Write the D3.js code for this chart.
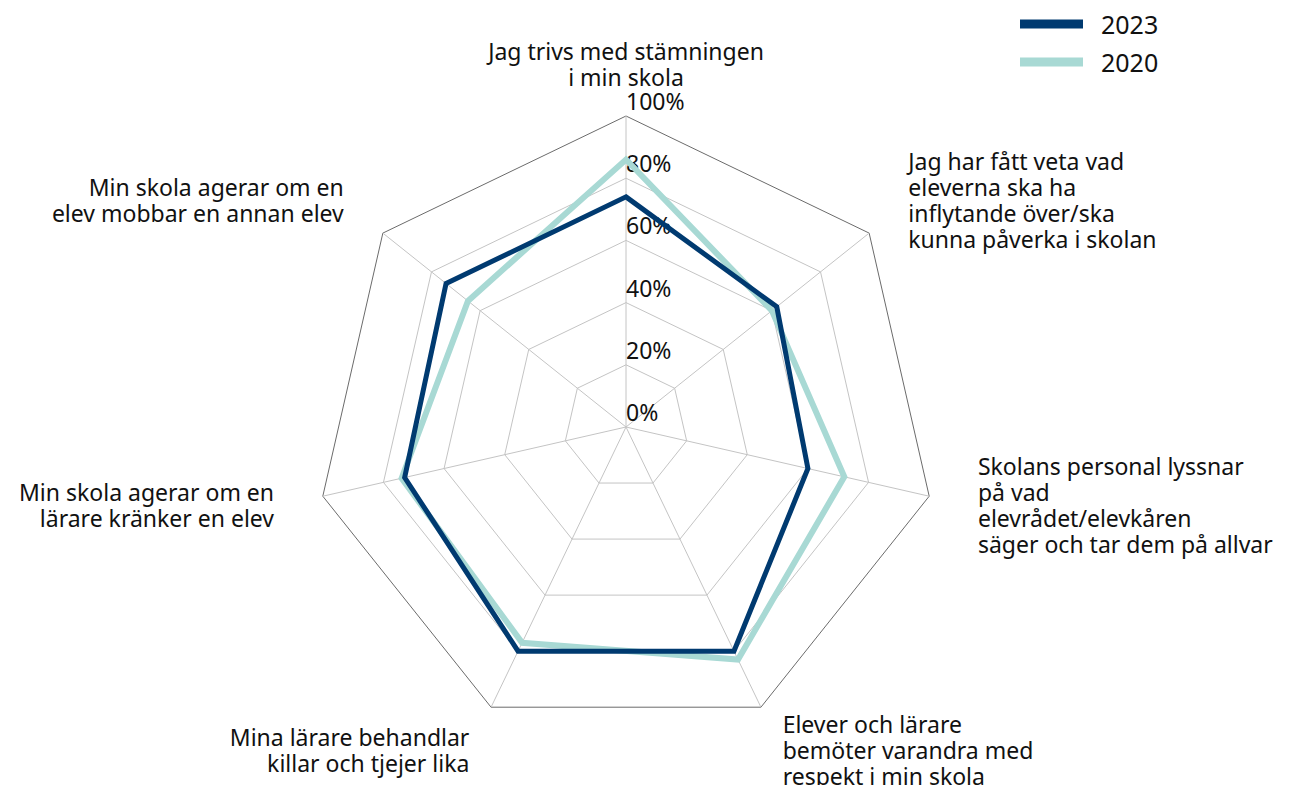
<!DOCTYPE html>
<html>
<head>
    <meta charset="utf-8">
    <title>Radar</title>
    <script src="https://d3js.org/d3.v7.min.js"></script>
    <style>
        body { margin: 0; background: #fff; }
        text { font-family: "Noto Sans", sans-serif; fill: #111; }
        .grid { fill: none; stroke: #c4c4c4; stroke-width: 1; }
        .grid.outer { stroke: #6b6b6b; }
        .spoke { stroke: #c4c4c4; stroke-width: 1; }
        .series { fill: none; stroke-linejoin: miter; }
    </style>
</head>
<body>
    <svg id="chart"></svg>

    <script>
        // axis labels, one entry per line
        var categories = [
            ["Jag trivs med stämningen", "i min skola"],
            ["Jag har fått veta vad", "eleverna ska ha", "inflytande över/ska", "kunna påverka i skolan"],
            ["Skolans personal lyssnar", "på vad", "elevrådet/elevkåren", "säger och tar dem på allvar"],
            ["Elever och lärare", "bemöter varandra med", "respekt i min skola"],
            ["Mina lärare behandlar", "killar och tjejer lika"],
            ["Min skola agerar om en", "lärare kränker en elev"],
            ["Min skola agerar om en", "elev mobbar en annan elev"]
        ];
        var values2023 = [74, 62, 60, 80, 80, 73, 74];
        var values2020 = [86, 60, 72, 83, 77, 74, 65];
        var ticks = [0, 20, 40, 60, 80, 100];
        var seriesNames = ["2023", "2020"];
        var seriesColors = ["#003a70", "#a8d9d4"];

        var width = 1312, height = 785;
        var cx = 626, cy = 427, R = 311;
        var lineH = 26;

        var svg = d3.select("#chart")
            .attr("width", width)
            .attr("height", height);

        var r = d3.scaleLinear().domain([0, 100]).range([0, R]);
        var n = categories.length;
        var angle = function(i) { return i * 2 * Math.PI / n; };

        var g = svg.append("g").attr("transform", "translate(" + cx + "," + cy + ")");

        // rings (skip 0)
        var ring = d3.lineRadial()
            .angle(function(d, i) { return angle(i); })
            .radius(function(d) { return r(d); })
            .curve(d3.curveLinearClosed);

        ticks.filter(function(t) { return t > 0; }).forEach(function(t) {
            g.append("path")
                .attr("class", t === 100 ? "grid outer" : "grid")
                .attr("d", ring(d3.range(n).map(function() { return t; })));
        });

        g.selectAll(".spoke")
            .data(d3.range(n))
            .enter().append("line")
            .attr("class", "spoke")
            .attr("x1", 0).attr("y1", 0)
            .attr("x2", function(i) { return r(100) * Math.sin(angle(i)); })
            .attr("y2", function(i) { return -r(100) * Math.cos(angle(i)); });

        // tick labels
        g.selectAll(".tick-label")
            .data(ticks)
            .enter().append("text")
            .attr("class", "tick-label")
            .attr("x", 0)
            .attr("y", function(d) { return -r(d) - 6; })
            .style("font-size", "23px")
            .text(function(d) { return d + "%"; });

        // series, 2020 under 2023
        [values2020, values2023].forEach(function(vals, k) {
            var idx = k === 0 ? 1 : 0;
            g.append("path")
                .attr("class", "series")
                .attr("stroke", seriesColors[idx])
                .attr("stroke-width", idx === 0 ? 5 : 6)
                .attr("d", ring(vals));
        });

        // category labels
        var labelR = r(100) + 50;
        categories.forEach(function(lines, i) {
            var a = angle(i);
            var x = labelR * Math.sin(a), y = -labelR * Math.cos(a);
            var anchor = Math.abs(Math.sin(a)) < 0.1 ? "middle" : (Math.sin(a) > 0 ? "start" : "end");
            var y0 = y - (lines.length - 1) * lineH / 2 + 7;
            var t = g.append("text")
                .attr("text-anchor", anchor)
                .style("font-size", "23px");
            t.selectAll("tspan")
                .data(lines)
                .enter().append("tspan")
                .attr("x", x)
                .attr("y", function(d, j) { return y0 + j * lineH; })
                .text(function(d) { return d; });
        });

        // legend
        var legend = svg.append("g").attr("transform", "translate(1020,24)");
        seriesNames.forEach(function(name, i) {
            legend.append("line")
                .attr("x1", 0).attr("x2", 63)
                .attr("y1", i * 38).attr("y2", i * 38)
                .attr("stroke", seriesColors[i])
                .attr("stroke-width", 9);
            legend.append("text")
                .attr("x", 81)
                .attr("y", i * 38 + 10)
                .style("font-size", "25px")
                .text(name);
        });
    </script>
</body>
</html>
